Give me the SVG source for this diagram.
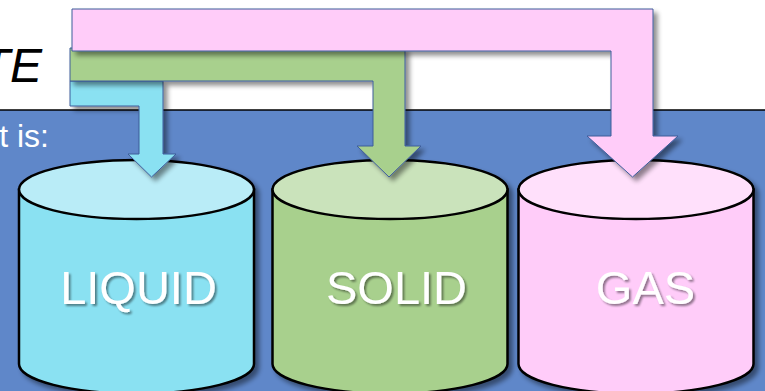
<svg xmlns="http://www.w3.org/2000/svg" width="765" height="391" viewBox="0 0 765 391">
  <defs>
    <filter id="shadow" x="-10%" y="-10%" width="130%" height="130%">
      <feGaussianBlur in="SourceAlpha" stdDeviation="2.5"/>
      <feOffset dx="4" dy="4" result="b"/>
      <feComponentTransfer><feFuncA type="linear" slope="0.45"/></feComponentTransfer>
      <feMerge><feMergeNode/><feMergeNode in="SourceGraphic"/></feMerge>
    </filter>
    <filter id="txtShadow" x="-10%" y="-20%" width="130%" height="150%">
      <feGaussianBlur in="SourceAlpha" stdDeviation="1"/>
      <feOffset dx="2" dy="2"/>
      <feComponentTransfer><feFuncA type="linear" slope="0.45"/></feComponentTransfer>
      <feMerge><feMergeNode/><feMergeNode in="SourceGraphic"/></feMerge>
    </filter>
  </defs>
  <style>
    .cyl { stroke: #000; stroke-width: 2.5; }
    .arrow { stroke: #3E5C9A; stroke-width: 1; stroke-linejoin: miter; }
    .label { font-family: "Liberation Sans", Arial, sans-serif; font-size: 47px; fill: #fff; text-anchor: middle; }
  </style>

  <!-- page background -->
  <rect x="0" y="0" width="765" height="391" fill="#ffffff"/>
  <rect x="0" y="110" width="765" height="281" fill="#5F87C9"/>
  <line x1="0" y1="110" x2="765" y2="110" stroke="#000" stroke-width="1.5"/>

  <!-- heading fragments -->
  <text x="42" y="82" font-family="Liberation Sans, Arial, sans-serif" font-size="48" font-style="italic" text-anchor="end" fill="#000">TE</text>
  <text x="49" y="147" font-family="Liberation Sans, Arial, sans-serif" font-size="32" text-anchor="end" fill="#fff">t is:</text>

  <!-- storage cylinders -->
  <g id="liquid" filter="url(#shadow)">
    <path class="cyl" fill="#8AE1F2" d="M19,189.5 L19,364 A117.5,29.5 0 0 0 254,364 L254,189.5 Z"/>
    <ellipse class="cyl" cx="136.5" cy="189.5" rx="117.5" ry="29.5" fill="#B9ECF7"/>
  </g>
  <g id="solid" filter="url(#shadow)">
    <path class="cyl" fill="#A8D08D" d="M272.5,189.5 L272.5,364 A117.5,29.5 0 0 0 507.5,364 L507.5,189.5 Z"/>
    <ellipse class="cyl" cx="390" cy="189.5" rx="117.5" ry="29.5" fill="#CAE3BB"/>
  </g>
  <g id="gas" filter="url(#shadow)">
    <path class="cyl" fill="#FFCCF9" d="M518.5,189.5 L518.5,364 A117.5,29.5 0 0 0 753.5,364 L753.5,189.5 Z"/>
    <ellipse class="cyl" cx="636" cy="189.5" rx="117.5" ry="29.5" fill="#FFE0FB"/>
  </g>

  <!-- cylinder labels -->
  <g filter="url(#txtShadow)">
    <text class="label" x="138.5" y="304">LIQUID</text>
    <text class="label" x="396.5" y="304">SOLID</text>
    <text class="label" x="645.5" y="304">GAS</text>
  </g>

  <!-- bent arrows feeding each cylinder -->
  <g id="connectors">
    <polygon class="arrow" filter="url(#shadow)" fill="#8AE1F2" points="70,81 163,81 163,154 176,154 151.5,177 128,154 139,154 139,106 70,106"/>
    <polygon class="arrow" filter="url(#shadow)" fill="#A8D08D" points="70,48 405,48 405,146 421,146 389,177 357,146 373,146 373,81 70,81"/>
    <polygon class="arrow" filter="url(#shadow)" fill="#FFCCF9" points="72,9 653,9 653,136 678,136 632.5,177 587,136 611,136 611,51 72,51"/>
  </g>
</svg>
